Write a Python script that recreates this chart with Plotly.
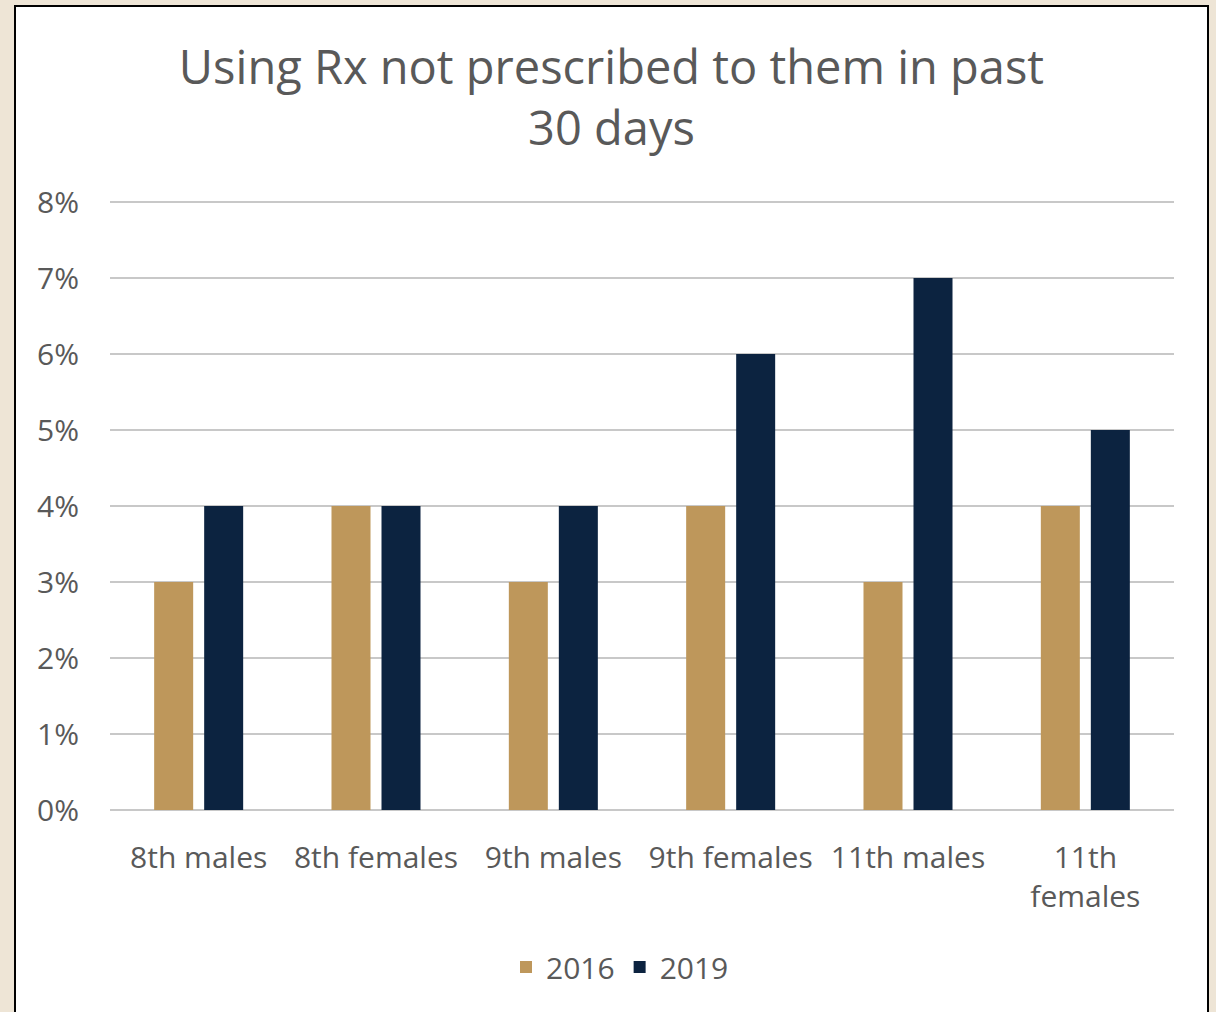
import plotly.graph_objects as go

categories = ["8th males", "8th females", "9th males", "9th females", "11th males", "11th<br>females"]
values_2016 = [0.03, 0.04, 0.03, 0.04, 0.03, 0.04]
values_2019 = [0.04, 0.04, 0.04, 0.06, 0.07, 0.05]
series_names = ["2016", "2019"]
colors = ["#BE975B", "#0C2340"]

W, H = 1216, 1012
L, R, T, B = 110, 42, 198, 202
pw, ph = W - L - R, H - T - B

def px_x(x):
    return (x - L) / pw

def px_y(y):
    return (H - B - y) / ph

fig = go.Figure()
for name, vals, col in zip(series_names, [values_2016, values_2019], colors):
    fig.add_trace(go.Bar(x=categories, y=vals, name=name, marker=dict(color=col, line=dict(width=0))))

font_family = "Open Sans, Lato, sans-serif"
fig.update_layout(
    width=W, height=H,
    margin=dict(l=L, r=R, t=T, b=B, autoexpand=False),
    paper_bgcolor="#EEE5D6",
    plot_bgcolor="rgba(0,0,0,0)",
    barmode="group",
    bargap=0.436,
    bargroupgap=0.22,
    font=dict(family=font_family, color="#595959"),
    title=dict(
        text="Using Rx not prescribed to them in past<br>30 days",
        x=611.5 / W, xanchor="center", xref="container",
        y=1 - 84 / H, yanchor="middle",
        font=dict(size=47, color="#595959", family=font_family),
    ),
    xaxis=dict(showgrid=False, showline=False, ticks="", tickfont=dict(size=30),
               ticklabelstandoff=27, tickangle=0),
    yaxis=dict(
        range=[0, 0.080526], tickvals=[i / 100 for i in range(9)], tickformat=".0%",
        showgrid=True, gridcolor="#C8C8C8", gridwidth=1.5,
        zeroline=True, zerolinecolor="#C8C8C8", zerolinewidth=1.5,
        tickfont=dict(size=30), ticklabelstandoff=30,
    ),
    legend=dict(
        orientation="h", x=px_x(620), xanchor="center", xref="paper",
        y=px_y(967), yanchor="middle",
        font=dict(size=30), itemwidth=30, traceorder="normal",
        bgcolor="rgba(0,0,0,0)",
    ),
    shapes=[dict(
        type="rect", xref="paper", yref="paper",
        x0=px_x(15), x1=px_x(1208), y0=px_y(1020), y1=px_y(6),
        fillcolor="white", line=dict(color="black", width=2), layer="below",
    )],
)

fig.write_html(
    "out.html",
    config={"displayModeBar": False},
    post_script="document.body.style.margin='0';document.body.style.padding='0';",
)
